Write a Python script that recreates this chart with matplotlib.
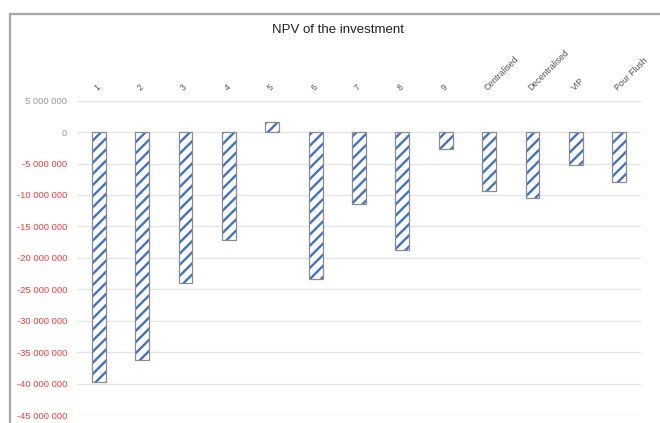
import numpy as np
import matplotlib.pyplot as plt
from matplotlib.lines import Line2D
from matplotlib.ticker import FuncFormatter

categories = ['1', '2', '3', '4', '5', '6', '7', '8', '9',
              'Centralised', 'Decentralised', 'VIP', 'Pour Flush']
npv = [-39.8e6, -36.2e6, -24.0e6, -17.2e6, 1.6e6, -23.4e6, -11.4e6,
       -18.7e6, -2.7e6, -9.4e6, -10.4e6, -5.3e6, -8.0e6]
yticks = np.arange(-45e6, 5e6 + 1, 5e6)

plt.rcParams['font.family'] = ['Liberation Sans', 'DejaVu Sans']
plt.rcParams['hatch.linewidth'] = 1.7

fig = plt.figure(figsize=(6.6, 4.23), dpi=100)
ax = fig.add_axes([77 / 660, 1 - 415 / 423, (641 - 77) / 660, (415 - 100.7) / 423])

x = np.arange(len(categories))
# hatched fill first, then the grey outline on top
ax.bar(x, npv, width=0.32, color='white', edgecolor='#3f72cf', hatch='///', linewidth=0, zorder=2)
ax.bar(x, npv, width=0.32, fill=False, edgecolor='#8c8c8c', linewidth=0.9, zorder=3)

ax.set_xlim(-0.5, len(categories) - 0.5)
ax.set_ylim(-45e6, 5e6)
ax.set_yticks(yticks)
ax.yaxis.set_major_formatter(FuncFormatter(lambda v, p: f"{v:,.0f}".replace(',', ' ')))
ax.grid(axis='y', color='#e4e4e4', linewidth=0.9, zorder=0)
ax.tick_params(axis='y', length=0, pad=7, labelsize=6.8)
for lab, v in zip(ax.get_yticklabels(), yticks):
    lab.set_color('#ff3b3b' if v < 0 else '#9a9a9a')

ax.xaxis.tick_top()
ax.set_xticks(x)
ax.set_xticklabels(categories, rotation=45, ha='left', va='bottom',
                   rotation_mode='anchor', fontsize=6.3, color='#555555')
ax.tick_params(axis='x', length=0, pad=6)
for s in ax.spines.values():
    s.set_visible(False)

fig.text(338 / 660, 1 - 30 / 423, 'NPV of the investment', ha='center', va='center',
         fontsize=9.5, color='#222222')

# frame around the chart area
fig.add_artist(Line2D([10 / 660, 1], [1 - 14 / 423] * 2, color='#a8a8a8', lw=1.6))
fig.add_artist(Line2D([10 / 660] * 2, [0, 1 - 14 / 423], color='#a8a8a8', lw=1.6))

fig.savefig('out.png', dpi=100)
